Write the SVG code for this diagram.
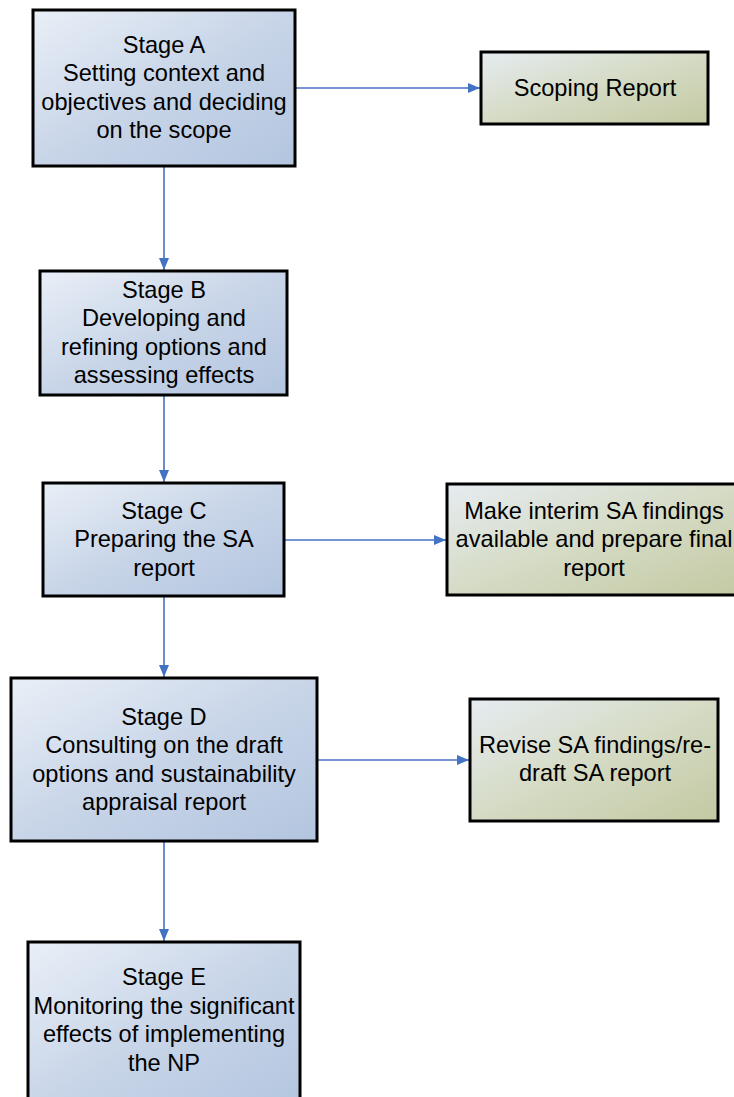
<svg xmlns="http://www.w3.org/2000/svg" width="734" height="1097" viewBox="0 0 734 1097">
<defs>
<linearGradient id="gb" x1="0" y1="0" x2="1" y2="1">
<stop offset="0" stop-color="#E9EFF7"/>
<stop offset="0.5" stop-color="#C8D5E8"/>
<stop offset="1" stop-color="#B3C5DF"/>
</linearGradient>
<linearGradient id="gg" x1="0" y1="0" x2="1" y2="1">
<stop offset="0" stop-color="#E6ECF1"/>
<stop offset="0.5" stop-color="#D5DBC4"/>
<stop offset="1" stop-color="#C3C9A2"/>
</linearGradient>
<marker id="ah" markerWidth="12" markerHeight="10" refX="12" refY="5" orient="auto" markerUnits="userSpaceOnUse">
<path d="M0,0 L12,5 L0,10 Z" fill="#4472C4"/>
</marker>
</defs>
<style>
.b{fill:url(#gb);stroke:#000;stroke-width:3}
.g{fill:url(#gg);stroke:#000;stroke-width:3}
text{font-family:"Liberation Sans",Arial,sans-serif;font-size:23.6px;fill:#000;text-anchor:middle}
.c{stroke:#4472C4;stroke-width:1.6;fill:none;marker-end:url(#ah)}
</style>
<g id="connectors">
<line class="c" x1="164" y1="167" x2="164" y2="270"/>
<line class="c" x1="296" y1="88" x2="480" y2="88"/>
<line class="c" x1="164" y1="396" x2="164" y2="482"/>
<line class="c" x1="285" y1="540" x2="446" y2="540"/>
<line class="c" x1="164" y1="597" x2="164" y2="677"/>
<line class="c" x1="318" y1="760" x2="469" y2="760"/>
<line class="c" x1="164" y1="842" x2="164" y2="941"/>
</g>
<g id="stageA">
<rect class="b" x="33" y="10" width="262" height="156"/>
<text x="164" y="53">Stage A</text>
<text x="164" y="81">Setting context and</text>
<text x="164" y="110">objectives and deciding</text>
<text x="164" y="138">on the scope</text>
</g>
<g id="scoping">
<rect class="g" x="481" y="52" width="227" height="72"/>
<text x="595" y="96">Scoping Report</text>
</g>
<g id="stageB">
<rect class="b" x="40" y="271" width="247" height="124"/>
<text x="164" y="298">Stage B</text>
<text x="164" y="326">Developing and</text>
<text x="164" y="355">refining options and</text>
<text x="164" y="383">assessing effects</text>
</g>
<g id="stageC">
<rect class="b" x="43" y="483" width="241" height="113"/>
<text x="164" y="519">Stage C</text>
<text x="164" y="547">Preparing the SA</text>
<text x="164" y="576">report</text>
</g>
<g id="interim">
<rect class="g" x="447" y="484" width="300" height="111"/>
<text x="594" y="519">Make interim SA findings</text>
<text x="594" y="547">available and prepare final</text>
<text x="594" y="576">report</text>
</g>
<g id="stageD">
<rect class="b" x="11" y="678" width="306" height="163"/>
<text x="164" y="725">Stage D</text>
<text x="164" y="753">Consulting on the draft</text>
<text x="164" y="782">options and sustainability</text>
<text x="164" y="810">appraisal report</text>
</g>
<g id="revise">
<rect class="g" x="470" y="699" width="248" height="122"/>
<text x="595" y="753">Revise SA findings/re-</text>
<text x="595" y="781">draft SA report</text>
</g>
<g id="stageE">
<rect class="b" x="28" y="942" width="272" height="170"/>
<text x="164" y="985">Stage E</text>
<text x="164" y="1014">Monitoring the significant</text>
<text x="164" y="1042">effects of implementing</text>
<text x="164" y="1071">the NP</text>
</g>
</svg>
